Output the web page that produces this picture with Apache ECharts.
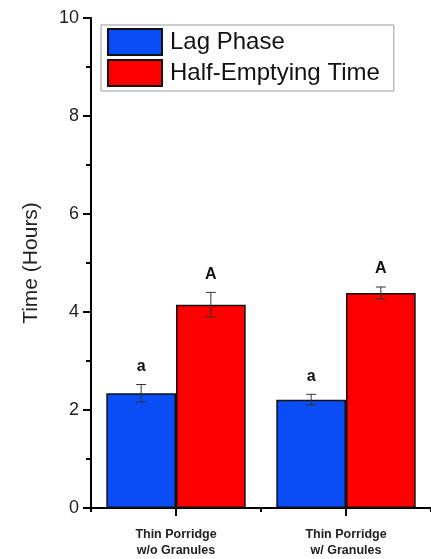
<!DOCTYPE html>
<html>
<head>
<meta charset="utf-8">
<script src="https://cdn.jsdelivr.net/npm/echarts@6/dist/echarts.min.js"></script>
<style>html,body{margin:0;padding:0;background:#fff;}#c{width:431px;height:559px;}</style>
</head>
<body>
<div id="c"></div>
<script>
var categories = ['Thin Porridge\nw/o Granules', 'Thin Porridge\nw/ Granules'];
var seriesNames = ['Lag Phase', 'Half-Emptying Time'];
var lagPhase = [2.34, 2.21];
var lagPhaseErr = [0.18, 0.11];
var halfEmptying = [4.15, 4.39];
var halfEmptyingErr = [0.25, 0.12];
var lagLetters = ['a', 'a'];
var halfLetters = ['A', 'A'];
var yTicks = [0, 2, 4, 6, 8, 10];

var chart = echarts.init(document.getElementById('c'), null, {renderer: 'canvas'});
var CAT_GAP = 0.18;

function errorSeries(vals, errs, letters, sideIdx, name) {
  var data = vals.map(function (v, i) { return [i, v, errs[i], letters[i]]; });
  return {
    type: 'custom',
    name: name + ' err',
    xAxisIndex: 0,
    yAxisIndex: 0,
    z: 10,
    silent: true,
    legendHoverLink: false,
    data: data,
    renderItem: function (params, api) {
      var i = api.value(0), v = api.value(1), e = api.value(2);
      var band = api.size([1, 0])[0];
      var barW = band * (1 - CAT_GAP) / 2;
      var center = api.coord([i, v]);
      var x = center[0] + (sideIdx === 0 ? -barW / 2 : barW / 2);
      var yHi = api.coord([i, v + e])[1];
      var yLo = api.coord([i, v - e])[1];
      var cw = 5;
      var st = {stroke: '#333', lineWidth: 1};
      var letter = data[params.dataIndex][3];
      return {
        type: 'group',
        children: [
          {type: 'line', shape: {x1: x, y1: yHi, x2: x, y2: yLo}, style: st},
          {type: 'line', shape: {x1: x - cw, y1: yHi, x2: x + cw, y2: yHi}, style: st},
          {type: 'line', shape: {x1: x - cw, y1: yLo, x2: x + cw, y2: yLo}, style: st},
          {type: 'text', style: {x: x, y: yHi - 10, text: letter, align: 'center', verticalAlign: 'bottom',
            font: 'bold 16px Arial, "Liberation Sans", sans-serif', fill: '#111'}}
        ]
      };
    }
  };
}

var option = {
  animation: false,
  backgroundColor: '#fff',
  grid: {left: 91, top: 18, width: 342, height: 490, containLabel: false},
  legend: {
    orient: 'vertical',
    left: 101, top: 25,
    padding: [3, 14, 4, 6],
    itemWidth: 54, itemHeight: 26, itemGap: 3,
    borderColor: '#999', borderWidth: 1,
    data: [
      {name: seriesNames[0], icon: 'rect'},
      {name: seriesNames[1], icon: 'rect'}
    ],
    textStyle: {fontFamily: 'Arial, "Liberation Sans", sans-serif', fontSize: 24, lineHeight: 26, color: '#111', padding: [2, 0, 0, 3]},
    selectedMode: false
  },
  xAxis: [{
    type: 'category',
    data: categories,
    boundaryGap: true,
    axisLine: {show: true, onZero: false, lineStyle: {color: '#000', width: 2}},
    axisTick: {show: true, alignWithLabel: true, inside: false, length: 8, lineStyle: {color: '#000', width: 2}},
    axisLabel: {show: true, interval: 0, margin: 19, fontFamily: 'Arial, "Liberation Sans", sans-serif',
      fontWeight: 'bold', fontSize: 12.5, color: '#222', lineHeight: 16},
    splitLine: {show: false}
  }, {
    type: 'category',
    data: categories,
    position: 'bottom',
    boundaryGap: true,
    axisLine: {show: false},
    axisTick: {show: true, alignWithLabel: false, length: 4, lineStyle: {color: '#000', width: 2}},
    axisLabel: {show: false},
    splitLine: {show: false}
  }],
  yAxis: {
    type: 'value',
    min: 0, max: 10, interval: 2,
    name: 'Time (Hours)',
    nameLocation: 'middle',
    nameGap: 49,
    nameTextStyle: {fontFamily: 'Arial, "Liberation Sans", sans-serif', fontSize: 21, color: '#222'},
    axisLine: {show: true, lineStyle: {color: '#000', width: 2}},
    axisTick: {show: true, length: 8, lineStyle: {color: '#000', width: 2}},
    minorTick: {show: true, splitNumber: 2, length: 5, lineStyle: {color: '#000', width: 2}},
    axisLabel: {fontFamily: 'Arial, "Liberation Sans", sans-serif', fontSize: 18, color: '#222', margin: 12,
      customValues: yTicks},
    splitLine: {show: false},
    minorSplitLine: {show: false}
  },
  series: [{
    name: seriesNames[0],
    type: 'bar',
    data: lagPhase,
    barGap: '0%',
    barCategoryGap: (CAT_GAP * 100) + '%',
    itemStyle: {color: '#0a4cf5', borderColor: '#111', borderWidth: 1.5},
    z: 2
  }, {
    name: seriesNames[1],
    type: 'bar',
    data: halfEmptying,
    barGap: '0%',
    barCategoryGap: (CAT_GAP * 100) + '%',
    itemStyle: {color: '#ff0000', borderColor: '#111', borderWidth: 1.5},
    z: 2
  },
  errorSeries(lagPhase, lagPhaseErr, lagLetters, 0, seriesNames[0]),
  errorSeries(halfEmptying, halfEmptyingErr, halfLetters, 1, seriesNames[1])
  ]
};
chart.setOption(option);
</script>
</body>
</html>
